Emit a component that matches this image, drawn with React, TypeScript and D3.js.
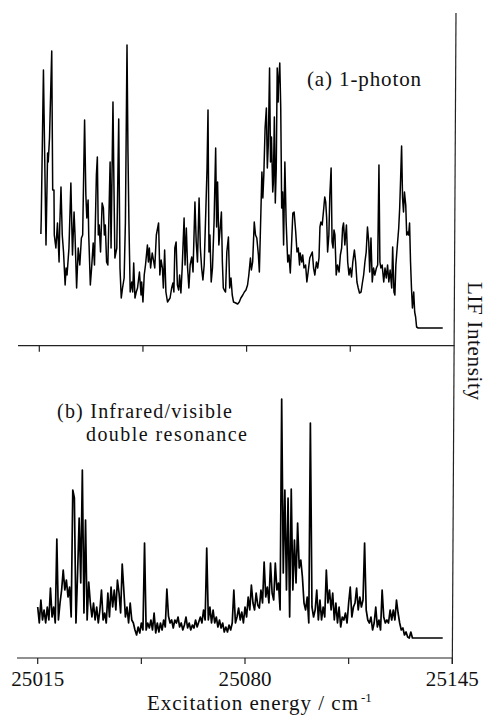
import React from "react";
import * as d3 from "d3";

// (a) 1-photon LIF spectrum: [excitation energy / cm-1, intensity (arb.)]
const TOP_SPECTRUM: [number, number][] = [
  [25015.5, 94], [25015.6, 108], [25016.3, 258], [25016.5, 213], [25017.1, 83], [25017.6, 175], [25017.8, 166],
  [25018.2, 190], [25018.9, 277], [25019.2, 138], [25019.6, 138], [25019.7, 93], [25020.2, 80], [25020.7, 105],
  [25021.2, 66], [25021.4, 100], [25021.8, 141], [25022.2, 93], [25022.6, 76], [25023.1, 43], [25023.4, 60],
  [25023.7, 53], [25024.1, 71], [25024.3, 80], [25024.9, 145], [25025.4, 73], [25025.9, 116], [25026.2, 93],
  [25026.7, 40], [25027.2, 80], [25027.7, 63], [25028.2, 90], [25028.6, 93], [25029.2, 208], [25029.6, 133],
  [25029.9, 110], [25030.3, 128], [25030.5, 93], [25031.0, 43], [25031.4, 60], [25031.9, 85], [25032.3, 63],
  [25032.9, 153], [25033.2, 171], [25033.5, 93], [25033.8, 103], [25034.2, 76], [25034.7, 125], [25035.1, 120],
  [25035.4, 93], [25035.7, 103], [25036.1, 66], [25036.5, 63], [25037.2, 166], [25037.5, 80], [25037.8, 153],
  [25038.1, 226], [25038.4, 143], [25038.7, 70], [25039.3, 80], [25039.9, 209], [25040.3, 60], [25040.7, 30],
  [25041.1, 40], [25041.6, 50], [25042.0, 106], [25042.5, 283], [25042.8, 176], [25043.1, 106], [25043.5, 36],
  [25044.0, 46], [25044.3, 36], [25044.6, 65], [25045.0, 30], [25045.4, 36], [25045.8, 40], [25046.4, 56],
  [25046.9, 33], [25047.1, 46], [25047.5, 26], [25047.9, 53], [25048.3, 63], [25048.9, 83], [25049.2, 66],
  [25049.5, 80], [25049.9, 60], [25050.4, 75], [25050.9, 66], [25051.2, 60], [25051.7, 93], [25052.4, 105],
  [25052.8, 53], [25053.2, 68], [25053.6, 60], [25053.9, 40], [25054.3, 78], [25054.7, 36], [25055.2, 26],
  [25056.0, 30], [25056.5, 40], [25056.9, 45], [25057.2, 36], [25057.5, 80], [25057.9, 86], [25058.3, 43],
  [25058.7, 38], [25059.0, 53], [25059.4, 35], [25059.8, 60], [25060.4, 110], [25060.7, 63], [25061.1, 100],
  [25061.5, 60], [25061.9, 40], [25062.3, 63], [25062.8, 71], [25063.2, 56], [25063.8, 126], [25064.2, 86],
  [25064.6, 66], [25065.1, 130], [25065.5, 80], [25065.9, 60], [25066.3, 48], [25066.7, 63], [25067.2, 116],
  [25067.6, 160], [25067.9, 218], [25068.2, 76], [25068.5, 93], [25068.9, 46], [25069.3, 60], [25069.8, 106],
  [25070.3, 180], [25070.6, 101], [25070.9, 146], [25071.3, 83], [25071.8, 103], [25072.1, 116], [25072.4, 66],
  [25072.7, 40], [25073.0, 38], [25073.4, 36], [25073.8, 76], [25074.3, 91], [25074.7, 40], [25075.1, 50],
  [25075.5, 33], [25075.9, 26], [25076.6, 25], [25077.2, 24], [25077.7, 26], [25078.2, 30], [25078.8, 33],
  [25079.3, 36], [25079.8, 38], [25080.3, 43], [25080.7, 53], [25081.2, 70], [25081.5, 58], [25081.9, 66],
  [25082.4, 106], [25082.8, 93], [25083.2, 90], [25083.7, 73], [25084.0, 56], [25084.4, 106], [25084.8, 156],
  [25085.1, 130], [25085.4, 153], [25085.8, 200], [25086.2, 220], [25086.5, 160], [25086.8, 183], [25087.2, 260],
  [25087.5, 166], [25087.8, 191], [25088.2, 136], [25088.4, 146], [25088.7, 211], [25089.0, 125], [25089.3, 160],
  [25089.6, 260], [25089.9, 226], [25090.0, 243], [25090.4, 265], [25090.7, 221], [25091.0, 120], [25091.3, 136],
  [25091.6, 83], [25092.0, 166], [25092.4, 106], [25092.9, 66], [25093.3, 73], [25093.7, 55], [25094.1, 84],
  [25094.5, 115], [25094.9, 116], [25095.4, 96], [25095.8, 76], [25096.2, 80], [25096.6, 63],
  [25096.8, 75], [25097.3, 66], [25097.6, 73], [25098.0, 60], [25098.5, 63], [25098.9, 46], [25099.3, 56],
  [25099.8, 70], [25100.2, 73], [25100.6, 76], [25101.0, 60], [25101.4, 53], [25101.9, 66], [25102.3, 60],
  [25102.7, 70], [25103.0, 101], [25103.3, 106], [25103.7, 103], [25104.2, 120], [25104.5, 131], [25104.8, 126],
  [25105.1, 110], [25105.4, 76], [25105.8, 93], [25106.1, 133], [25106.5, 160], [25106.8, 86], [25107.1, 80],
  [25107.4, 98], [25107.7, 93], [25108.1, 53], [25108.5, 63], [25109.0, 56], [25109.4, 73], [25109.8, 80],
  [25110.1, 100], [25110.4, 105], [25110.8, 83], [25111.3, 103], [25111.7, 66], [25112.1, 53], [25112.5, 60],
  [25112.9, 51], [25113.3, 66], [25113.8, 78], [25114.2, 66], [25114.6, 46], [25115.0, 40], [25115.4, 35],
  [25115.9, 36], [25116.3, 45], [25116.7, 53], [25117.1, 66], [25117.5, 76], [25117.9, 101], [25118.3, 86],
  [25118.6, 56], [25119.0, 90], [25119.4, 46], [25119.8, 60], [25120.2, 53], [25120.7, 60], [25121.1, 63],
  [25121.5, 163], [25121.8, 66], [25122.1, 60], [25122.5, 63], [25123.0, 46], [25123.4, 60], [25123.8, 50],
  [25124.2, 63], [25124.6, 46], [25125.0, 58], [25125.5, 40], [25125.8, 81], [25126.2, 36], [25126.5, 33],
  [25126.8, 63], [25127.2, 80], [25127.7, 100], [25128.0, 120], [25128.3, 150], [25128.6, 182], [25128.9, 130],
  [25129.2, 116], [25129.5, 136], [25129.9, 123], [25130.2, 93], [25130.5, 96], [25130.8, 93], [25131.1, 105],
  [25131.4, 66], [25131.7, 40], [25132.0, 20], [25132.4, 36], [25132.7, 16], [25133.0, 11], [25133.3, 1],
  [25133.8, 0], [25137.0, 0], [25141.5, 0],
];

// (b) IR/visible double resonance spectrum, sampled every 0.5 cm-1 from 25015 cm-1
const BOTTOM_START = 25015;
const BOTTOM_STEP = 0.5;
const BOTTOM_INTENSITY: number[] = [
  31, 15, 38, 18, 28, 15, 31, 18, 50, 21,
  31, 15, 99, 18, 35, 48, 68, 48, 58, 41,
  51, 21, 148, 140, 15, 64, 120, 55, 168, 25,
  118, 18, 56, 35, 21, 35, 18, 31, 15, 28,
  48, 18, 25, 15, 45, 21, 51, 31, 48, 28,
  58, 45, 25, 74, 48, 21, 31, 15, 35, 18,
  15, 8, 3, 11, 5, 15, 8, 95, 8, 15,
  10, 18, 8, 25, 5, 15, 6, 15, 8, 18,
  11, 49, 22, 15, 18, 10, 18, 15, 21, 11,
  15, 8, 13, 21, 10, 15, 8, 13, 10, 18,
  11, 16, 21, 15, 28, 18, 90, 18, 31, 15,
  28, 15, 21, 11, 18, 10, 15, 6, 11, 6,
  13, 8, 15, 48, 15, 21, 30, 18, 26, 15,
  31, 21, 41, 28, 53, 35, 28, 45, 33, 30,
  48, 35, 76, 41, 51, 35, 75, 45, 38, 75,
  48, 55, 28, 239, 65, 148, 48, 140, 21, 149,
  48, 98, 55, 115, 70, 78, 61, 35, 28, 41,
  15, 215, 31, 21, 28, 48, 18, 38, 18, 31,
  21, 68, 35, 48, 28, 45, 18, 35, 15, 31,
  11, 21, 18, 25, 15, 35, 51, 21, 31, 35,
  50, 28, 41, 31, 38, 95, 28, 18, 15, 21,
  8, 15, 31, 11, 18, 8, 48, 21, 15, 18,
  15, 28, 18, 28, 18, 38, 25, 15, 8, 10,
  3, 6, 1, 0, 6, 0, 0, 0, 0, 0,
  0, 0, 0, 0, 0, 0, 0, 0, 0, 0, 0, 0, 0, 0, 0,
];

const X_DOMAIN: [number, number] = [25015, 25145];
const TICK_VALUES = [25015, 25047.5, 25080, 25112.5, 25145];
const TICK_LABELS = ["25015", "", "25080", "", "25145"];
const LABEL_A = "(a) 1-photon";
const LABEL_B1 = "(b) Infrared/visible";
const LABEL_B2 = "double resonance";
const X_TITLE = "Excitation energy / cm";
const X_TITLE_SUP = "-1";
const Y_TITLE = "LIF Intensity";

const FONT = "Liberation Serif, Times New Roman, serif";

export default function App() {
  const xTop = d3.scaleLinear().domain(X_DOMAIN).range([39.3, 453.9]);
  const xBot = d3.scaleLinear().domain(X_DOMAIN).range([37.7, 452.3]);
  const yTop = d3.scaleLinear().domain([0, 315]).range([328, 13]);
  const yBot = d3.scaleLinear().domain([0, 300]).range([638, 338]);

  const bottomData: [number, number][] = BOTTOM_INTENSITY.map((v, i) => [BOTTOM_START + i * BOTTOM_STEP, v]);

  const lineTop = d3.line<[number, number]>().x((d) => xTop(d[0])).y((d) => yTop(d[1]));
  const lineBot = d3.line<[number, number]>().x((d) => xBot(d[0])).y((d) => yBot(d[1]));

  const midY = 345.7;
  const botY = 658;

  return (
    <svg width={487} height={724} style={{ position: "absolute", left: 0, top: 0, display: "block", background: "#fff" }}>
      <rect x={0} y={0} width={487} height={724} fill="#fff" />
      {/* right frame line */}
      <path d={`M456,13 L452.3,${botY + 6}`} stroke="#222" strokeWidth={1.2} fill="none" />
      {/* separator axis between panels */}
      <line x1={18} x2={454.5} y1={midY} y2={midY} stroke="#222" strokeWidth={1.2} />
      {TICK_VALUES.slice(0, 4).map((t) => (
        <line key={"mt" + t} x1={xTop(t)} x2={xTop(t)} y1={midY} y2={midY + 6} stroke="#222" strokeWidth={1.2} />
      ))}
      {/* bottom axis */}
      <line x1={17} x2={452.3} y1={botY} y2={botY} stroke="#222" strokeWidth={1.2} />
      {TICK_VALUES.map((t) => (
        <line key={"bt" + t} x1={xBot(t)} x2={xBot(t)} y1={botY} y2={botY + 6} stroke="#222" strokeWidth={1.2} />
      ))}
      {TICK_VALUES.map((t, i) =>
        TICK_LABELS[i] ? (
          <text key={"tl" + t} x={xBot(t)} y={686} textAnchor="middle" fontFamily={FONT} fontSize={21} fill="#111"
            textLength={53} lengthAdjust="spacing">
            {TICK_LABELS[i]}
          </text>
        ) : null
      )}
      {/* spectra */}
      <path d={lineTop(TOP_SPECTRUM) || ""} fill="none" stroke="#000" strokeWidth={1.5} strokeLinejoin="round" />
      <path d={lineBot(bottomData) || ""} fill="none" stroke="#000" strokeWidth={1.7} strokeLinejoin="round" />
      {/* labels */}
      <text x={307} y={86} fontFamily={FONT} fontSize={21} fill="#111" textLength={114} lengthAdjust="spacing">
        {LABEL_A}
      </text>
      <text x={57} y={418} fontFamily={FONT} fontSize={20} fill="#111" textLength={175} lengthAdjust="spacing">
        {LABEL_B1}
      </text>
      <text x={86} y={441} fontFamily={FONT} fontSize={20} fill="#111" textLength={161} lengthAdjust="spacing">
        {LABEL_B2}
      </text>
      <text x={147} y={710} fontFamily={FONT} fontSize={21} fill="#111" textLength={211} lengthAdjust="spacing">
        {X_TITLE}
      </text>
      <text x={361} y={702} fontFamily={FONT} fontSize={13} fill="#111">
        {X_TITLE_SUP}
      </text>
      <text transform="translate(468,282) rotate(90)" fontFamily={FONT} fontSize={21} fill="#111" textLength={118} lengthAdjust="spacing">
        {Y_TITLE}
      </text>
    </svg>
  );
}
